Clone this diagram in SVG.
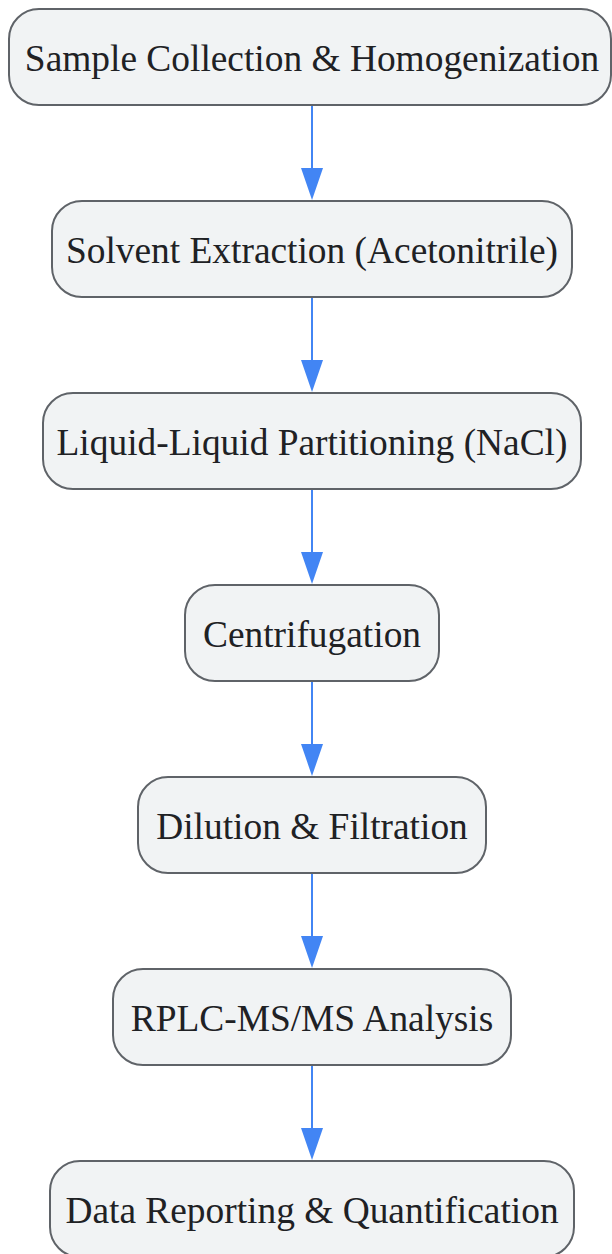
<svg xmlns="http://www.w3.org/2000/svg" width="612" height="1254" viewBox="0 0 612 1254">
<defs>
<style>
.box{fill:#f1f3f4;stroke:#5f6368;stroke-width:2}
.lbl{font-family:"Liberation Serif","Times New Roman",serif;font-size:37.4px;fill:#202124;text-anchor:middle}
.edge{stroke:#4285f4;stroke-width:2;fill:none}
.head{fill:#4285f4}
</style>
</defs>
<rect width="612" height="1254" fill="#ffffff"/>
<g id="connectors">
<line class="edge" x1="312" y1="105" x2="312" y2="170"/><path class="head" d="M301,168 L323,168 L312,200 Z"/>
<line class="edge" x1="312" y1="297" x2="312" y2="362"/><path class="head" d="M301,360 L323,360 L312,392 Z"/>
<line class="edge" x1="312" y1="489" x2="312" y2="554"/><path class="head" d="M301,552 L323,552 L312,584 Z"/>
<line class="edge" x1="312" y1="681" x2="312" y2="746"/><path class="head" d="M301,744 L323,744 L312,776 Z"/>
<line class="edge" x1="312" y1="873" x2="312" y2="938"/><path class="head" d="M301,936 L323,936 L312,968 Z"/>
<line class="edge" x1="312" y1="1065" x2="312" y2="1130"/><path class="head" d="M301,1128 L323,1128 L312,1160 Z"/>
</g>
<g id="n1"><rect class="box" x="9" y="9" width="602" height="96" rx="30"/><text class="lbl" x="312" y="71">Sample Collection &amp; Homogenization</text></g>
<g id="n2"><rect class="box" x="52" y="201" width="520" height="96" rx="30"/><text class="lbl" x="312" y="263">Solvent Extraction (Acetonitrile)</text></g>
<g id="n3"><rect class="box" x="43" y="393" width="538" height="96" rx="30"/><text class="lbl" x="312" y="455">Liquid-Liquid Partitioning (NaCl)</text></g>
<g id="n4"><rect class="box" x="185" y="585" width="254" height="96" rx="30"/><text class="lbl" x="312" y="647">Centrifugation</text></g>
<g id="n5"><rect class="box" x="138" y="777" width="348" height="96" rx="30"/><text class="lbl" x="312" y="839">Dilution &amp; Filtration</text></g>
<g id="n6"><rect class="box" x="113" y="969" width="398" height="96" rx="30"/><text class="lbl" x="312" y="1031">RPLC-MS/MS Analysis</text></g>
<g id="n7"><rect class="box" x="50" y="1161" width="524" height="96" rx="30"/><text class="lbl" x="312" y="1223">Data Reporting &amp; Quantification</text></g>
</svg>
